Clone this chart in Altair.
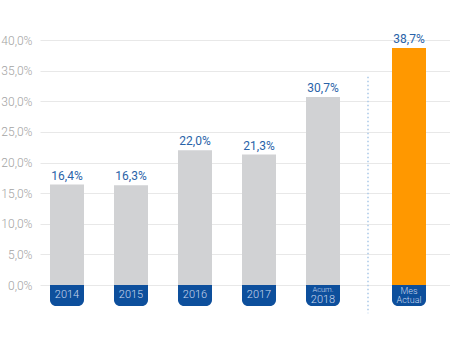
import altair as alt
import pandas as pd

categories = ["2014", "2015", "2016", "2017", "Acum. 2018", "Mes Actual"]
values = [16.4, 16.3, 22.0, 21.3, 30.7, 38.7]
tab_line1 = ["", "", "", "", "Acum.", "Mes"]
tab_line2 = ["2014", "2015", "2016", "2017", "2018", "Actual"]
kinds = ["year", "year", "year", "year", "acum", "mes"]
y_ticks = [0, 5, 10, 15, 20, 25, 30, 35, 40]

df = pd.DataFrame({
    "cat": categories,
    "value": values,
    "line1": tab_line1,
    "line2": tab_line2,
    "kind": kinds,
})

FONT = "Roboto"
GRAY = "#d1d2d4"
ORANGE = "#ff9800"
TAB = "#0d4f9c"
TAB_TEXT = "#c9d8ee"
LABEL = "#2a63a8"

x_scale = alt.Scale(domain=categories, paddingInner=0.46875, paddingOuter=0.4375, align=0.1786)
y_scale = alt.Scale(domain=[0, 40], nice=False, zero=True)

YAXIS = alt.Axis(
    values=y_ticks,
    labelExpr="replace(format(datum.value, '.1f'), '.', ',') + '%'",
    title=None, ticks=False, domain=False,
    gridColor="#e8e8e8", gridWidth=1,
    labelColor="#a3a3a3", labelFont=FONT, labelFontSize=12,
    labelFontWeight=300, labelPadding=8,
)

X = alt.X("cat:N", scale=x_scale, axis=None, sort=categories)
YV = alt.Y("value:Q", scale=y_scale, axis=YAXIS)


def yd(v):
    return alt.YDatum(v, scale=y_scale, axis=YAXIS, type="quantitative")


base = alt.Chart(df).transform_calculate(
    label="replace(format(datum.value, '.1f'), '.', ',') + '%'"
)


def group(src, off, color):
    bars = src.mark_bar(color=color, xOffset=off).encode(x=X, y=YV)
    tabs = src.mark_bar(
        color=TAB, xOffset=off,
        cornerRadiusBottomLeft=6, cornerRadiusBottomRight=6,
    ).encode(x=X, y=yd(0), y2=alt.datum(-3.43))
    labels = src.mark_text(
        xOffset=off, dy=-5, baseline="alphabetic", font=FONT, fontSize=12,
        color=LABEL, fontWeight=400,
    ).encode(x=X, y=YV, text="label:N")
    return [bars, tabs, labels]


main = base.transform_filter("datum.kind != 'mes'")
mes = base.transform_filter("datum.kind == 'mes'")
years = base.transform_filter("datum.kind == 'year'")
acum = base.transform_filter("datum.kind == 'acum'")

layers = group(main, 0, GRAY) + group(mes, 22, ORANGE)

txt = dict(baseline="middle", font=FONT, color=TAB_TEXT, fontWeight=300)
layers.append(years.mark_text(dy=10, fontSize=11, **txt).encode(
    x=X, y=yd(0), text="line2:N"))
layers.append(acum.mark_text(dy=4.5, fontSize=7.5, **txt).encode(
    x=X, y=yd(0), text="line1:N"))
layers.append(acum.mark_text(dy=14.5, fontSize=11, **txt).encode(
    x=X, y=yd(0), text="line2:N"))
layers.append(mes.mark_text(dy=6, xOffset=22, fontSize=9, **txt).encode(
    x=X, y=yd(0), text="line1:N"))
layers.append(mes.mark_text(dy=15, xOffset=22, fontSize=9, **txt).encode(
    x=X, y=yd(0), text="line2:N"))

# dotted separator before the current-month bar
layers.append(mes.mark_rule(xOffset=-19, color="#a9c8e8", strokeWidth=1.5,
                            strokeDash=[1.5, 2.5]).encode(
    x=X, y=yd(34), y2=alt.datum(-4.6)))

chart = alt.layer(*layers).properties(
    width=410, height=245,
    autosize=alt.AutoSizeParams(type="none"),
    padding={"left": 40, "top": 40, "right": 0, "bottom": 65},
    background="white",
).configure_view(stroke=None)

chart.save("out.html", embed_options={"renderer": "svg", "actions": False})
